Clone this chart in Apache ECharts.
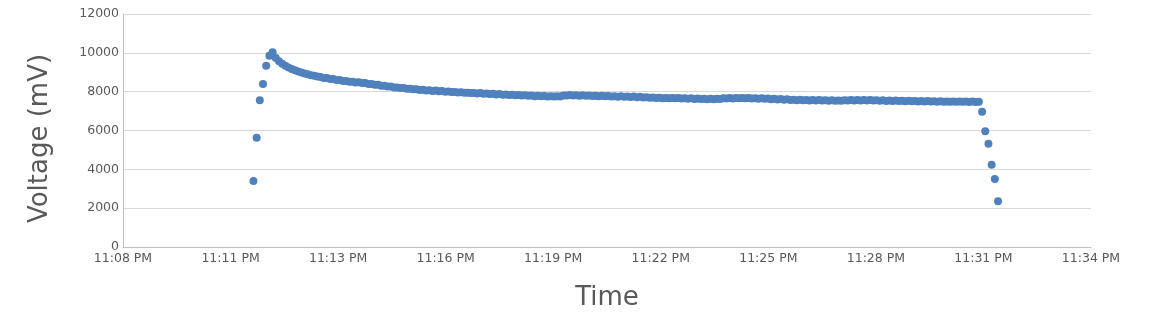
<!DOCTYPE html>
<html>
<head>
<meta charset="utf-8">
<script src="https://cdn.jsdelivr.net/npm/echarts@6/dist/echarts.min.js"></script>
<style>
html,body{margin:0;padding:0;background:#fff;}
#chart{width:1152px;height:336px;}
</style>
</head>
<body>
<div id="chart"></div>
<script>
// Recording: one sample every ~5.17 s, starting 11:11:40 PM (minutes after 23:00)
const startMinute = 11 + 40 / 60;
const sampleSeconds = 5.17;

// Voltage readings in mV, in sample order
const voltages = [
  3400, 5630, 7560, 8400, 9340, 9850, 10030, 9740, 9570, 9440,
  9330, 9240, 9170, 9100, 9040, 8990, 8940, 8900, 8850, 8820,
  8780, 8760, 8710, 8700, 8650, 8650, 8600, 8600, 8550, 8550,
  8510, 8510, 8470, 8480, 8440, 8440, 8400, 8400, 8360, 8350,
  8310, 8310, 8270, 8270, 8220, 8220, 8190, 8190, 8150, 8150,
  8120, 8120, 8090, 8100, 8060, 8075, 8040, 8055, 8020, 8035,
  8000, 8015, 7980, 7985, 7955, 7970, 7940, 7950, 7925, 7935,
  7910, 7925, 7895, 7910, 7875, 7890, 7860, 7875, 7845, 7860,
  7830, 7845, 7815, 7825, 7800, 7815, 7785, 7800, 7770, 7785,
  7760, 7775, 7750, 7770, 7745, 7765, 7755, 7800, 7805, 7830,
  7805, 7820, 7795, 7810, 7785, 7800, 7780, 7795, 7770, 7785,
  7760, 7780, 7750, 7770, 7740, 7760, 7735, 7755, 7725, 7745,
  7715, 7735, 7700, 7715, 7685, 7700, 7675, 7690, 7665, 7680,
  7660, 7675, 7655, 7670, 7650, 7665, 7640, 7660, 7625, 7645,
  7620, 7640, 7610, 7630, 7610, 7635, 7625, 7655, 7645, 7670,
  7650, 7675, 7655, 7675, 7655, 7675, 7650, 7665, 7640, 7660,
  7630, 7645, 7610, 7630, 7600, 7620, 7590, 7605, 7575, 7590,
  7560, 7580, 7555, 7575, 7550, 7570, 7545, 7565, 7540, 7560,
  7535, 7555, 7530, 7550, 7530, 7555, 7540, 7565, 7550, 7570,
  7550, 7570, 7545, 7565, 7540, 7560, 7535, 7555, 7525, 7545,
  7520, 7540, 7515, 7535, 7510, 7530, 7505, 7525, 7500, 7520,
  7495, 7515, 7490, 7510, 7485, 7505, 7480, 7500, 7480, 7500,
  7480, 7495, 7475, 7495, 7470, 7490, 7465, 7485, 6970, 5960,
  5320, 4240, 3500, 2350
];

// X axis tick positions (minutes after 23:00)
const xTickMinutes = [8.15, 11.05, 13.95, 16.85, 19.75, 22.65, 25.55, 28.45, 31.35, 34.25];
// Y axis ticks
const yTicks = [0, 2000, 4000, 6000, 8000, 10000, 12000];

const points = voltages.map((v, i) => [startMinute + i * sampleSeconds / 60, v]);

function fmtTime(m) {
  const mm = Math.floor(m + 1e-9);
  return '11:' + String(mm).padStart(2, '0') + ' PM';
}

const chart = echarts.init(document.getElementById('chart'), null, {renderer: 'canvas'});
chart.setOption({
  animation: false,
  backgroundColor: '#ffffff',
  grid: {left: 123, right: 61, top: 14, bottom: 89, containLabel: false},
  xAxis: {
    type: 'value',
    min: xTickMinutes[0],
    max: xTickMinutes[xTickMinutes.length - 1],
    name: 'Time',
    nameLocation: 'middle',
    nameGap: 38,
    nameTextStyle: {fontFamily: 'DejaVu Sans', fontSize: 26, color: '#595959'},
    axisLine: {show: true, lineStyle: {color: '#bfbfbf', width: 1}},
    axisTick: {show: false},
    splitLine: {show: false},
    axisLabel: {
      customValues: xTickMinutes,
      formatter: (v) => fmtTime(v),
      fontFamily: 'DejaVu Sans', fontSize: 12.5, color: '#595959', margin: 5
    }
  },
  yAxis: {
    type: 'value',
    min: yTicks[0],
    max: yTicks[yTicks.length - 1],
    interval: 2000,
    name: 'Voltage (mV)',
    nameLocation: 'middle',
    nameGap: 70,
    nameTextStyle: {fontFamily: 'DejaVu Sans', fontSize: 26, color: '#595959', padding: [0, 16, 0, 0]},
    axisLine: {show: true, lineStyle: {color: '#bfbfbf', width: 1}},
    axisTick: {show: false},
    splitLine: {show: true, lineStyle: {color: '#d9d9d9', width: 1}},
    axisLabel: {
      formatter: (v) => String(v),
      fontFamily: 'DejaVu Sans', fontSize: 12.5, color: '#595959', margin: 4
    }
  },
  series: [{
    type: 'scatter',
    data: points,
    symbol: 'circle',
    symbolSize: 8,
    itemStyle: {color: '#4f81bd', opacity: 1},
    emphasis: {disabled: true}
  }]
});
</script>
</body>
</html>
